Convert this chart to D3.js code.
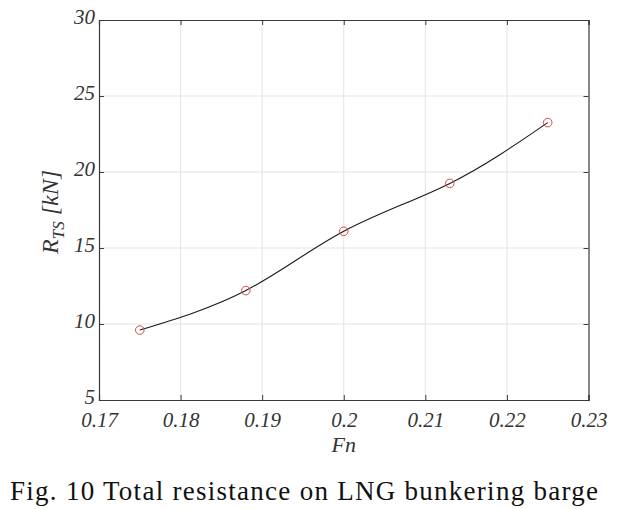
<!DOCTYPE html>
<html><head><meta charset="utf-8">
<script src="https://cdn.jsdelivr.net/npm/d3@7"></script>
<style>body{margin:0;background:#fff}svg{display:block}
text{font-family:"Liberation Serif";}</style>
</head><body>
<svg id="c" width="624" height="509"></svg>
<script>
const fn = [0.175, 0.188, 0.200, 0.213, 0.225];
const rts = [9.6, 12.2, 16.1, 19.25, 23.25];
const xTicks = [0.17, 0.18, 0.19, 0.20, 0.21, 0.22, 0.23];
const xTickLabels = ["0.17", "0.18", "0.19", "0.2", "0.21", "0.22", "0.23"];
const yTicks = [5, 10, 15, 20, 25, 30];
const caption = "Fig. 10 Total resistance on LNG bunkering barge";

const svg = d3.select("#c");
const L = 99, R = 588.5, T = 20, B = 400;
const x = d3.scaleLinear().domain([0.17, 0.23]).range([L, R]);
const y = d3.scaleLinear().domain([5, 30]).range([B, T]);
const serif = '"Liberation Serif"';

// grid
const g = svg.append("g");
g.selectAll("line.gx").data(xTicks.slice(1, -1)).enter().append("line")
  .attr("x1", d => x(d)).attr("x2", d => x(d)).attr("y1", T).attr("y2", B)
  .attr("stroke", "#e3e3e3").attr("stroke-width", 1);
g.selectAll("line.gy").data(yTicks.slice(1, -1)).enter().append("line")
  .attr("y1", d => y(d)).attr("y2", d => y(d)).attr("x1", L).attr("x2", R)
  .attr("stroke", "#e3e3e3").attr("stroke-width", 1);

// axes with inward ticks
const ax = d3.axisBottom(x).tickValues(xTicks).tickSize(-5).tickFormat((d, i) => xTickLabels[i]);
const axT = d3.axisTop(x).tickValues(xTicks).tickSize(-5).tickFormat("");
const ay = d3.axisLeft(y).tickValues(yTicks).tickSize(-5).tickFormat(d3.format("d"));
const ayR = d3.axisRight(y).tickValues(yTicks).tickSize(-5).tickFormat("");

function style(sel) {
  sel.attr("font-family", null).attr("font-size", null);
  sel.selectAll("path").attr("stroke", "#3a3a3a").attr("stroke-width", 1.2);
  sel.selectAll("line").attr("stroke", "#3a3a3a");
  sel.selectAll("text").attr("fill", "#333").style("font-family", serif)
    .style("font-style", "italic").style("font-size", "21px");
}
const gx = svg.append("g").attr("transform", `translate(0,${B})`).call(ax);
gx.selectAll("text").attr("dy", null).attr("y", 27);
style(gx);
style(svg.append("g").attr("transform", `translate(0,${T})`).call(axT));
const gy = svg.append("g").attr("transform", `translate(${L},0)`).call(ay);
gy.selectAll("text").attr("x", -4).attr("dy", "0.15em");
style(gy);
style(svg.append("g").attr("transform", `translate(${R},0)`).call(ayR));

// curve
const line = d3.line().x((d, i) => x(fn[i])).y(d => y(d)).curve(d3.curveNatural);
svg.append("path").datum(rts).attr("d", line)
  .attr("fill", "none").attr("stroke", "#1a1a1a").attr("stroke-width", 1.1);

svg.selectAll("circle.m").data(rts).enter().append("circle")
  .attr("cx", (d, i) => x(fn[i])).attr("cy", d => y(d)).attr("r", 4.3)
  .attr("fill", "none").attr("stroke", "#d24a4a").attr("stroke-width", 1);

// axis labels
svg.append("text").attr("x", x(0.2)).attr("y", 452).attr("text-anchor", "middle")
  .style("font-family", serif).style("font-style", "italic").style("font-size", "22px").attr("fill", "#333")
  .text("Fn");
const yl = svg.append("text").attr("transform", `translate(58,${(T + B) / 2 + 2}) rotate(-90)`)
  .attr("text-anchor", "middle").style("font-family", serif).style("font-style", "italic")
  .style("font-size", "24px").attr("fill", "#333");
yl.append("tspan").text("R");
yl.append("tspan").style("font-size", "17px").attr("dy", 6).text("TS");
yl.append("tspan").attr("dy", -6).text(" [kN]");

// caption
svg.append("text").attr("x", 10).attr("y", 500).style("font-family", serif)
  .style("font-size", "27px").attr("fill", "#111").attr("textLength", 588).attr("lengthAdjust", "spacing")
  .text(caption);
</script>
</body></html>
